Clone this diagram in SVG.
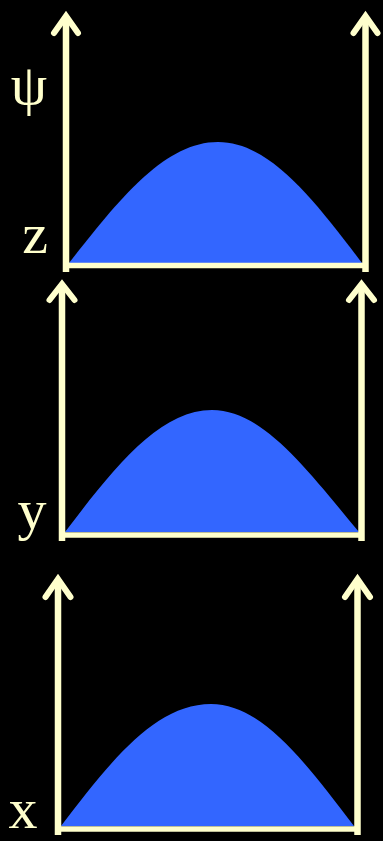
<svg xmlns="http://www.w3.org/2000/svg" width="383" height="841" viewBox="0 0 383 841">
<style>
.ax{fill:none;stroke:#FFFFCC;stroke-width:6.5;stroke-linecap:butt}
.hd{fill:none;stroke:#FFFFCC;stroke-width:6;stroke-linecap:round;stroke-linejoin:miter;stroke-miterlimit:10}
.bl{fill:none;stroke:#FFFFCC;stroke-width:5.5}
.hump{fill:#3366FF;stroke:none}
.lbl{font-family:"Liberation Serif","DejaVu Serif",serif;fill:#FFFFCC;font-size:58px}
</style>
<rect x="0" y="0" width="383" height="841" fill="#000"/>
<g id="panel-z">
<path class="hump" d="M69,263 C118.8,199.5 164.4,142 218,142 C269.8,142 313.9,199.5 362,263 Z"/>
<line class="bl" x1="66" y1="265.5" x2="365.5" y2="265.5"/>
<line class="ax" x1="66" y1="16" x2="66" y2="272"/>
<line class="ax" x1="365.5" y1="16" x2="365.5" y2="272"/>
<path class="hd" d="M54,33 L66,16 L78,33"/>
<path class="hd" d="M353.5,33 L365.5,16 L377.5,33"/>
<text class="lbl" x="29" y="104" text-anchor="middle">ψ</text>
<text class="lbl" x="35" y="253" text-anchor="middle">z</text>
</g>
<g id="panel-y">
<path class="hump" d="M65,532 C114.1,467.8 159.1,410 212,410 C262.3,410 305.4,467.8 359,532 Z"/>
<line class="bl" x1="62" y1="535" x2="361.5" y2="535"/>
<line class="ax" x1="62" y1="284" x2="62" y2="541"/>
<line class="ax" x1="361.5" y1="284" x2="361.5" y2="541"/>
<path class="hd" d="M49.5,300 L62,284 L74.5,300"/>
<path class="hd" d="M349,300 L361.5,284 L374,300"/>
<text class="lbl" x="32" y="529" text-anchor="middle">y</text>
</g>
<g id="panel-x">
<path class="hump" d="M61,826 C110,761.9 155,704 211,704 C261.8,704 305.1,761.9 354,826 Z"/>
<line class="bl" x1="58" y1="829" x2="357.5" y2="829"/>
<line class="ax" x1="58" y1="579" x2="58" y2="835"/>
<line class="ax" x1="357.5" y1="579" x2="357.5" y2="835"/>
<path class="hd" d="M45.5,597 L58,579 L70.5,597"/>
<path class="hd" d="M345,597 L357.5,579 L370,597"/>
<text class="lbl" x="23" y="828" text-anchor="middle">x</text>
</g>
</svg>
